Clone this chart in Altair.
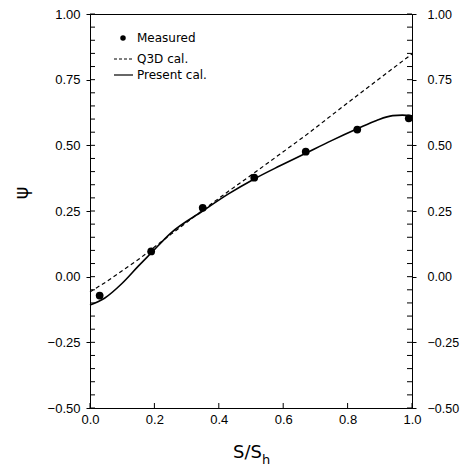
import altair as alt
import pandas as pd

# Measured blade loading
measured_s = [0.03, 0.19, 0.35, 0.51, 0.67, 0.83, 0.99]
measured_psi = [-0.072, 0.096, 0.262, 0.377, 0.476, 0.560, 0.603]

# Q3D calculation
q3d_s = [0.0, 0.05, 0.15, 0.25, 0.35, 0.43, 0.51, 0.67, 0.83, 1.0]
q3d_psi = [-0.058, -0.02, 0.065, 0.16, 0.253, 0.325, 0.395, 0.538, 0.69, 0.848]

# Present calculation
present_s = [0.0, 0.045, 0.10, 0.15, 0.19, 0.25, 0.35, 0.43, 0.51, 0.59,
             0.67, 0.75, 0.83, 0.89, 0.94, 0.97, 1.0]
present_psi = [-0.108, -0.082, -0.025, 0.04, 0.09, 0.165, 0.25, 0.315, 0.372,
               0.422, 0.47, 0.518, 0.563, 0.595, 0.613, 0.615, 0.612]

# Axis ticks
y_ticks = [round(-0.5 + 0.05 * i, 2) for i in range(31)]
y_major = [-0.5, -0.25, 0.0, 0.25, 0.5, 0.75, 1.0]
x_ticks = [0.0, 0.2, 0.4, 0.6, 0.8, 1.0]

W, H = 322, 394
FONT = "DejaVu Sans"
AXFONT = "Liberation Sans"

xs = alt.Scale(domain=[0, 1], nice=False, zero=False)
ys = alt.Scale(domain=[-0.5, 1.0], nice=False, zero=False)

measured = pd.DataFrame({"s": measured_s, "psi": measured_psi})
q3d = pd.DataFrame({"s": q3d_s, "psi": q3d_psi})
present = pd.DataFrame({"s": present_s, "psi": present_psi})
yt = pd.DataFrame({"v": y_ticks})
xt = pd.DataFrame({"v": x_ticks})

label_expr = ("abs(datum.value*4 - round(datum.value*4)) < 0.001 ? "
              "format(datum.value, '.2f') : ''")

left_axis = alt.Axis(orient="left", values=y_major, labelExpr=label_expr,
                     title=None, grid=False, tickSize=4, tickColor="black",
                     domainColor="black", labelColor="black", labelFont=AXFONT,
                     labelFontSize=13, labelPadding=6, labelFlush=False)
right_axis = alt.Axis(orient="right", values=y_major, labelExpr=label_expr,
                      title=None, grid=False, tickSize=4, tickColor="black",
                      domainColor="black", labelColor="black", labelFont=AXFONT,
                      labelFontSize=12.5, labelPadding=11, labelFlush=False)
bottom_axis = alt.Axis(orient="bottom", values=x_ticks, format=".1f",
                       title=None, grid=False, ticks=False, labelFlush=False,
                       domainColor="black", labelColor="black", labelFont=AXFONT,
                       labelFontSize=13, labelPadding=5)

X = alt.X("s:Q", scale=xs, axis=bottom_axis)

q3d_line = alt.Chart(q3d).mark_line(
    color="black", strokeDash=[4, 3], strokeWidth=1.2
).encode(
    x=X,
    y=alt.Y("psi:Q", scale=ys, axis=left_axis),
)

present_line = alt.Chart(present).mark_line(
    color="black", strokeWidth=1.6, interpolate="monotone"
).encode(
    x=X,
    y=alt.Y("psi:Q", scale=ys, axis=None),
)

points = alt.Chart(measured).mark_point(
    filled=True, color="black", size=60, opacity=1
).encode(
    x=X,
    y=alt.Y("psi:Q", scale=ys, axis=None),
)

# Inward tick marks on both vertical edges and the bottom edge
left_ticks = alt.Chart(yt).mark_rule(color="black", strokeWidth=1).encode(
    y=alt.Y("v:Q", scale=ys, axis=None), x=alt.value(0), x2=alt.value(5)
)
right_ticks = alt.Chart(yt).mark_rule(color="black", strokeWidth=1).encode(
    y=alt.Y("v:Q", scale=ys, axis=right_axis), x=alt.value(W), x2=alt.value(W - 5)
)
bottom_ticks = alt.Chart(xt).mark_rule(color="black", strokeWidth=1).encode(
    x=alt.X("v:Q", scale=xs, axis=bottom_axis), y=alt.value(H), y2=alt.value(H - 5)
)

# Legend
leg_pt = pd.DataFrame({"t": ["Measured"]})
legend_dot = alt.Chart(leg_pt).mark_point(
    filled=True, color="black", size=30, opacity=1
).encode(x=alt.value(33), y=alt.value(24))
legend_dash = alt.Chart(leg_pt).mark_rule(
    color="black", strokeDash=[3, 2], strokeWidth=1
).encode(x=alt.value(24), x2=alt.value(43), y=alt.value(45))
legend_solid = alt.Chart(leg_pt).mark_rule(
    color="black", strokeWidth=1.2
).encode(x=alt.value(24), x2=alt.value(43), y=alt.value(61))
legend_text = alt.Chart(pd.DataFrame({
    "t": ["Measured", "Q3D  cal.", "Present  cal."],
    "yy": [24, 45, 61],
})).mark_text(
    align="left", baseline="middle", font=FONT, fontSize=12, color="black"
).encode(text="t:N", x=alt.value(47), y=alt.Y("yy:Q", scale=None, axis=None))

# Axis titles
psi_title = alt.Chart(pd.DataFrame({"t": ["ψ"]})).mark_text(
    angle=270, font=FONT, fontSize=19, color="black", baseline="middle",
    align="center"
).encode(text="t:N", x=alt.value(-68), y=alt.value(179))
s_title = alt.Chart(pd.DataFrame({"t": ["S/S"]})).mark_text(
    font=FONT, fontSize=18, color="black", align="right", baseline="middle"
).encode(text="t:N", x=alt.value(172), y=alt.value(439))
h_title = alt.Chart(pd.DataFrame({"t": ["h"]})).mark_text(
    font=FONT, fontSize=13, color="black", align="left", baseline="middle"
).encode(text="t:N", x=alt.value(172), y=alt.value(446))

chart = alt.layer(
    q3d_line, present_line, points, left_ticks, right_ticks, bottom_ticks,
    legend_dot, legend_dash, legend_solid, legend_text,
    psi_title, s_title, h_title,
).resolve_scale(y="independent").properties(
    width=W, height=H,
    autosize=alt.AutoSizeParams(type="none"),
    padding={"left": 90, "top": 14, "right": 50, "bottom": 65},
    background="white",
).configure_view(stroke="black", strokeWidth=1)

chart.save("out.html", embed_options={"renderer": "svg", "actions": False})
